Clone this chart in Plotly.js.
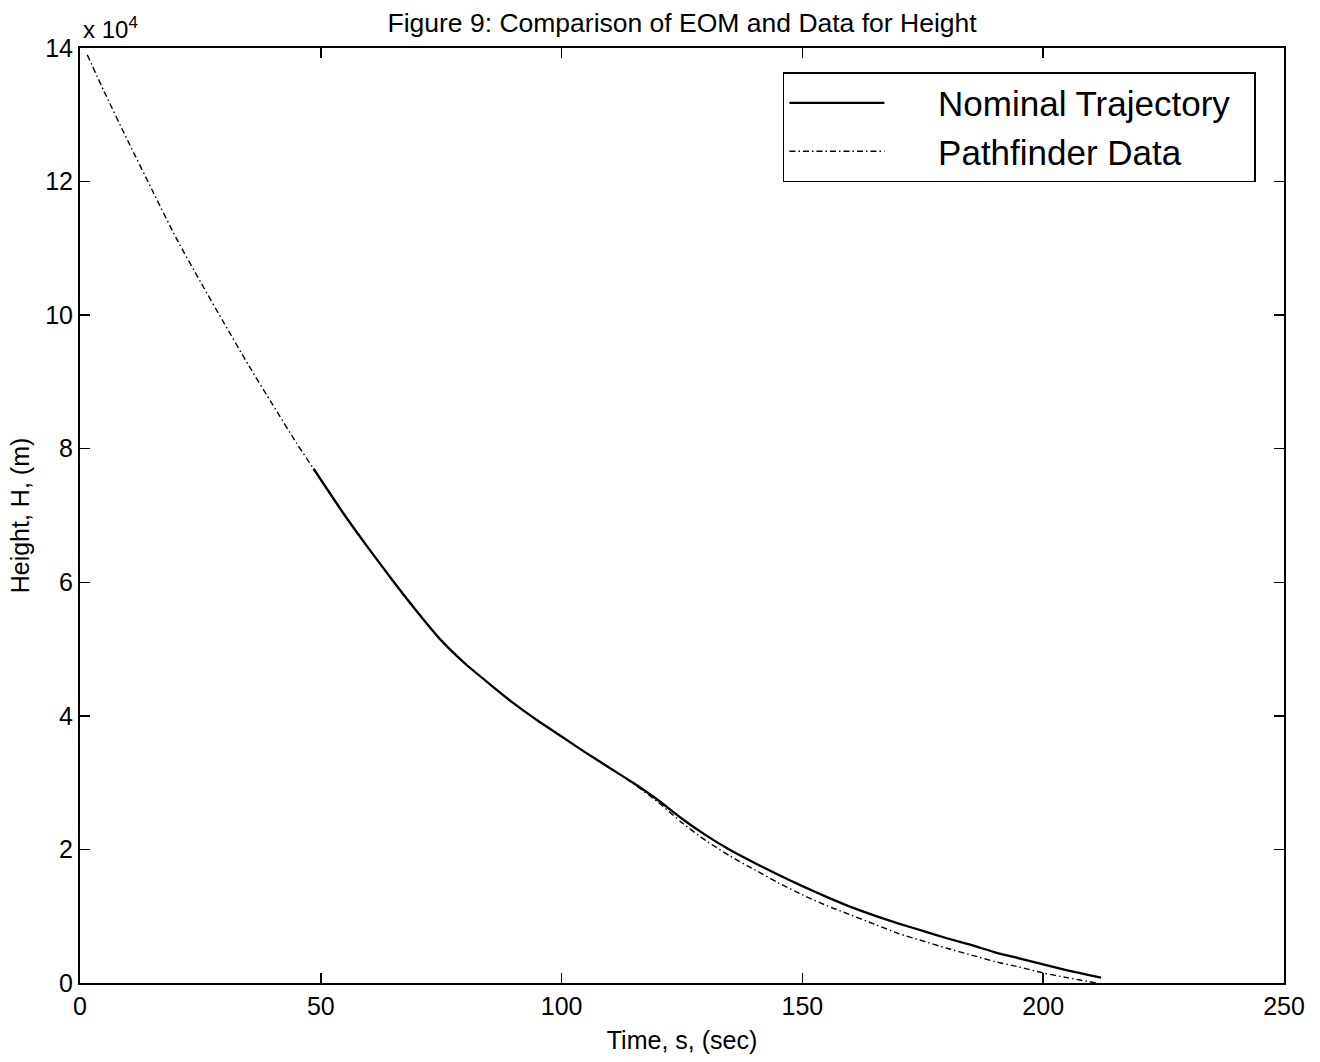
<!DOCTYPE html>
<html>
<head>
<meta charset="utf-8">
<script src="https://cdn.plot.ly/plotly-3.0.1.min.js"></script>
<style>html,body{margin:0;padding:0;background:#fff;}#chart{width:1320px;height:1062px;}</style>
</head>
<body>
<div id="chart"></div>
<script>
// Nominal trajectory (EOM), time in s, height in units of 10^4 m
const nominalTime = [48.5, 55, 60, 65, 70, 75, 80, 85, 90, 95, 100, 105, 110, 115, 120, 125, 130, 135, 140, 145, 150, 155, 160, 165, 170, 175, 180, 185, 190, 195, 200, 205, 210, 212];
const nominalHeight = [7.70, 7.00, 6.50, 6.02, 5.56, 5.13, 4.78, 4.48, 4.19, 3.93, 3.69, 3.45, 3.22, 2.99, 2.74, 2.46, 2.21, 1.99, 1.80, 1.62, 1.45, 1.29, 1.14, 1.01, 0.89, 0.78, 0.67, 0.57, 0.46, 0.37, 0.28, 0.19, 0.11, 0.08];

// Pathfinder data
const dataTime = [1.5, 5, 10, 15, 20, 25, 30, 35, 40, 45, 48.5, 55, 60, 65, 70, 75, 80, 85, 90, 95, 100, 105, 110, 115, 120, 125, 130, 135, 140, 145, 150, 155, 160, 165, 170, 175, 180, 185, 190, 195, 200, 205, 211];
const dataHeight = [13.9, 13.35, 12.6, 11.87, 11.15, 10.5, 9.87, 9.25, 8.66, 8.08, 7.70, 7.00, 6.50, 6.02, 5.56, 5.13, 4.78, 4.48, 4.19, 3.93, 3.69, 3.45, 3.22, 2.98, 2.71, 2.40, 2.13, 1.90, 1.70, 1.50, 1.32, 1.16, 1.02, 0.88, 0.74, 0.63, 0.52, 0.42, 0.32, 0.24, 0.15, 0.08, 0.0];

const xTicks = [0, 50, 100, 150, 200, 250];
const yTicks = [0, 2, 4, 6, 8, 10, 12, 14];

const FONT = 'Arial, "Liberation Sans", sans-serif';
const NB = '\u00a0';

const traces = [
  {x: nominalTime, y: nominalHeight, type: 'scatter', mode: 'lines',
   name: NB.repeat(5) + 'Nominal Trajectory' + NB.repeat(2),
   line: {color: '#000', width: 2.3, shape: 'spline', smoothing: 0.6}},
  {x: dataTime, y: dataHeight, type: 'scatter', mode: 'lines',
   name: NB.repeat(5) + 'Pathfinder Data',
   line: {color: '#000', width: 1.4, dash: '6px,3px,1.5px,3px', shape: 'spline', smoothing: 0.6}}
];

const axisCommon = {
  showgrid: false, zeroline: false, showline: true, linecolor: '#000', linewidth: 2,
  mirror: 'ticks', ticks: 'inside', ticklen: 10, tickwidth: 1.5, tickcolor: '#000',
  tickfont: {family: FONT, size: 25, color: '#000'}
};

const layout = {
  width: 1320, height: 1062,
  margin: {l: 80, r: 36, t: 48, b: 79},
  paper_bgcolor: '#fff', plot_bgcolor: '#fff',
  font: {family: FONT, color: '#000'},
  showlegend: true,
  title: {text: 'Figure 9: Comparison of EOM and Data for Height', font: {family: FONT, size: 26.5, color: '#000'},
          x: 0.5167, xanchor: 'center', y: 0.979, yanchor: 'middle', yref: 'container'},
  xaxis: Object.assign({}, axisCommon, {
    range: [0, 250], tickvals: xTicks, ticktext: xTicks.map(String),
    title: {text: 'Time, s, (sec)', font: {family: FONT, size: 25, color: '#000'}, standoff: 12}
  }),
  yaxis: Object.assign({}, axisCommon, {
    range: [0, 14], tickvals: yTicks, ticktext: yTicks.map(String),
    title: {text: 'Height, H, (m)', font: {family: FONT, size: 25, color: '#000'}, standoff: 8}
  }),
  legend: {
    x: 0.9767, xanchor: 'right', y: 0.9743, yanchor: 'top',
    bordercolor: '#000', borderwidth: 1.5, bgcolor: '#fff',
    font: {family: FONT, size: 35, color: '#000'},
    itemwidth: 95, tracegroupgap: 0
  },
  annotations: [
    {xref: 'paper', yref: 'paper', x: 0, y: 1, xanchor: 'left', yanchor: 'bottom', yshift: 3, xshift: 1,
     text: 'x 10<sup>4</sup>', showarrow: false, font: {family: FONT, size: 24, color: '#000'}}
  ]
};

Plotly.newPlot('chart', traces, layout, {displayModeBar: false, staticPlot: true});
</script>
</body>
</html>
